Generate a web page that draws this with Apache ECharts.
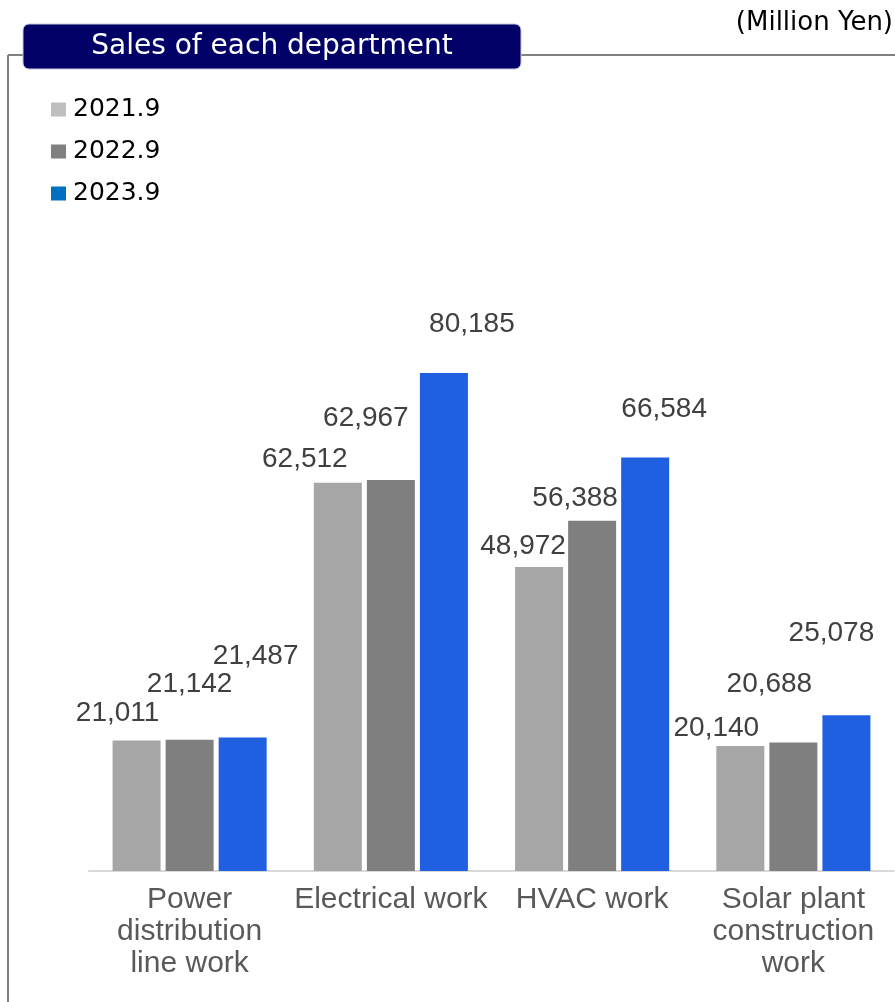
<!DOCTYPE html>
<html>
<head>
<meta charset="utf-8">
<script src="https://cdn.jsdelivr.net/npm/echarts@6/dist/echarts.min.js"></script>
<style>
  html, body { margin: 0; padding: 0; background: #fff; }
  #chart { width: 895px; height: 1002px; }
</style>
</head>
<body>
<div id="chart"></div>
<script>
// Department sales, million yen
const categories = ['Power\ndistribution\nline work', 'Electrical work', 'HVAC work', 'Solar plant\nconstruction\nwork'];
const seriesNames = ['2021.9', '2022.9', '2023.9'];
const sales2021 = [21011, 62512, 48972, 20140];
const sales2022 = [21142, 62967, 56388, 20688];
const sales2023 = [21487, 80185, 66584, 25078];

// Styling
const barColors = ['#a6a6a6', '#7f7f7f', '#1f5fe0'];
const legendColors = ['#bfbfbf', '#808080', '#0070c0'];
// Hand-placed value label nudges [dx, dy] per series, per category
const labelNudges = [
  [[-19, -13], [-33, -10], [-16, -7], [-24, -4]],
  [[0, -41], [-25, -48], [-17, -9], [-24, -44]],
  [[13, -67], [28, -35], [19, -34], [-15, -68]]
];

const valueSets = [sales2021, sales2022, sales2023];
const chart = echarts.init(document.getElementById('chart'), null, { renderer: 'canvas' });

const series = valueSets.map((vals, s) => ({
  name: seriesNames[s],
  type: 'bar',
  barWidth: 48,
  barGap: '10.5%',
  itemStyle: { color: barColors[s] },
  label: {
    show: true,
    position: 'top',
    distance: 0,
    fontFamily: 'Liberation Sans, Arial, sans-serif',
    fontSize: 28,
    color: '#404040',
    formatter: p => p.value.toLocaleString('en-US')
  },
  data: vals.map((v, i) => ({ value: v, label: { offset: labelNudges[s][i] } })),
  animation: false
}));

chart.setOption({
  animation: false,
  backgroundColor: '#ffffff',
  grid: { left: 89, right: 1, top: 250, bottom: 131 },
  legend: {
    orient: 'vertical',
    left: 46,
    top: 92,
    itemWidth: 15,
    itemHeight: 14,
    itemGap: 17,
    icon: 'rect',
    textStyle: { fontFamily: 'DejaVu Sans, Verdana, sans-serif', fontSize: 25, color: '#000', padding: [0, 0, 0, 2] },
    data: seriesNames.map((n, i) => ({ name: n, itemStyle: { color: legendColors[i] } }))
  },
  xAxis: {
    type: 'category',
    data: categories,
    axisLine: { show: true, lineStyle: { color: '#d9d9d9', width: 2 } },
    axisTick: { show: false },
    axisLabel: {
      interval: 0,
      margin: 13,
      fontFamily: 'Liberation Sans, Arial, sans-serif',
      fontSize: 30,
      lineHeight: 32,
      color: '#595959',
      align: 'center'
    }
  },
  yAxis: {
    type: 'value',
    min: 0,
    max: 100000,
    show: false,
    splitLine: { show: false }
  },
  series: series,
  graphic: [
    // Frame: top rule and left rule
    { type: 'line', shape: { x1: 8, y1: 55, x2: 895, y2: 55 }, style: { stroke: '#7f7f7f', lineWidth: 2 }, z: 1 },
    { type: 'line', shape: { x1: 8, y1: 55, x2: 8, y2: 1002 }, style: { stroke: '#7f7f7f', lineWidth: 2 }, z: 1 },
    // Title plate
    { type: 'rect', shape: { x: 23, y: 24, width: 498, height: 45, r: 6 }, style: { fill: '#000066', stroke: '#c8c8e0', lineWidth: 1 }, z: 5 },
    { type: 'text', x: 272, y: 46.5, style: { text: 'Sales of each department', fill: '#ffffff', font: '28px "DejaVu Sans", Verdana, sans-serif', align: 'center', verticalAlign: 'middle' }, z: 6 },
    // Unit note
    { type: 'text', x: 893, y: 23, style: { text: '(Million Yen)', fill: '#000000', font: '26px "DejaVu Sans", Verdana, sans-serif', align: 'right', verticalAlign: 'middle' }, z: 6 }
  ]
});
</script>
</body>
</html>
